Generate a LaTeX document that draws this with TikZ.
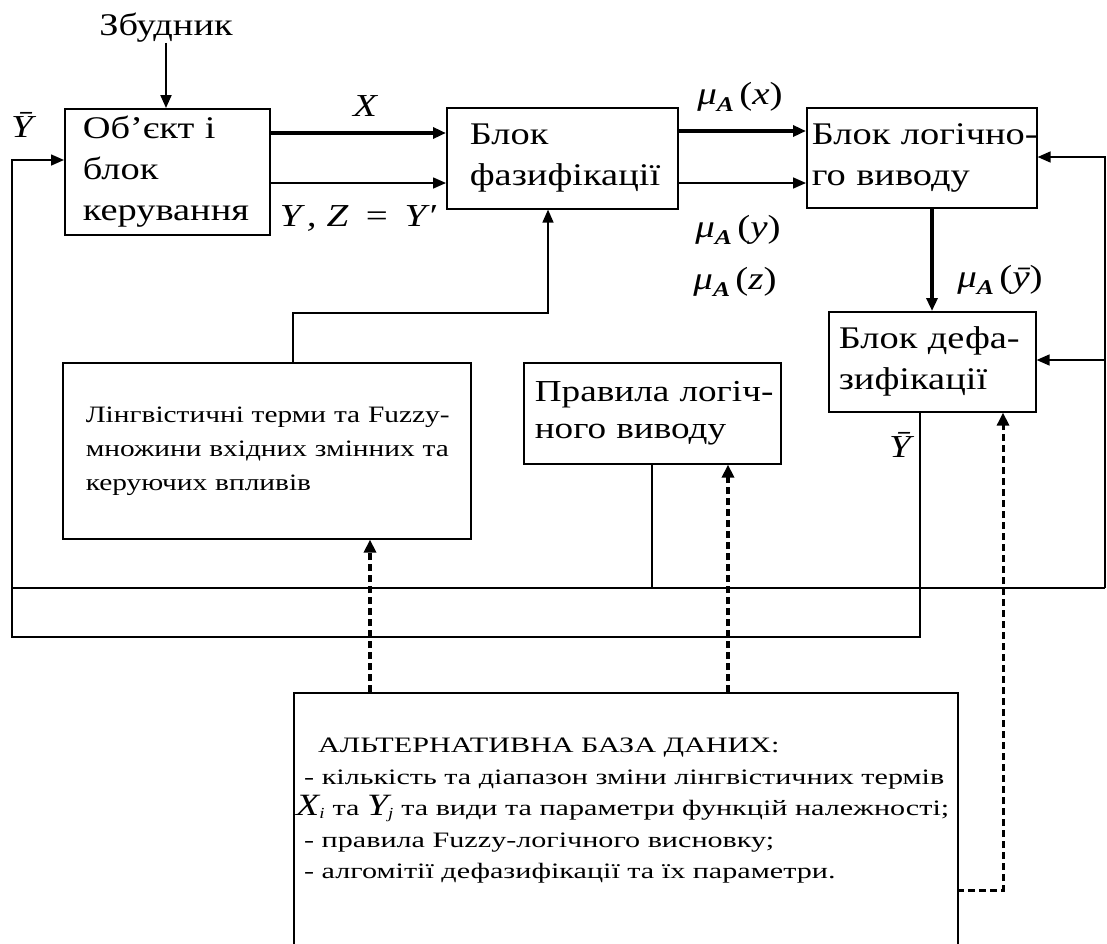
\documentclass[tikz,border=0pt]{standalone}
\usepackage{fontspec}
\setmainfont{Liberation Serif}[FakeStretch=1.22]
\newfontfamily\lingfont{Liberation Serif}[FakeStretch=1.25]
\newfontfamily\botfont{Liberation Serif}[FakeStretch=1.37]
\usetikzlibrary{arrows.meta}
\newcommand\muA[1]{μ\raisebox{-7pt}{\fontsize{21}{21}\selectfont\bfseries\itshape A}\,{\upshape(}#1{\upshape)}}
\begin{document}
\begin{tikzpicture}[x=1pt,y=-1pt,
  box/.style={draw,line width=1.6pt,inner ysep=0pt,anchor=north west,align=left,
    font=\fontsize{31.5}{41}\selectfont},
  lab/.style={inner sep=0pt,font=\fontsize{32}{36}\selectfont\itshape},
  ln/.style={line width=1.6pt},
  arr/.style={ln,-{Triangle[length=13pt,width=11pt]}},
  thk/.style={arr,line width=4pt},
  dsh/.style={line width=3.5pt,dash pattern=on 7pt off 4pt,-{Triangle[length=13pt,width=12pt]}}]
\useasboundingbox[fill=white] (0,0) rectangle (1107,943);

% boxes
\node[box,minimum width=205pt,minimum height=126pt,text width=169pt,inner xsep=18pt] (obj) at (64,108) {\mbox{Об\symbol{39}єкт і}\\\mbox{блок}\\\mbox{керування}};
\node[box,minimum width=231pt,minimum height=101pt,text width=185pt,inner xsep=23pt] (fuzz) at (446,107) {\mbox{Блок}\\\mbox{фазифікації}};
\node[box,minimum width=230pt,minimum height=100pt,text width=220pt,inner xsep=5pt] (logic) at (806,107) {\mbox{Блок логічно-}\\\mbox{го виводу}};
\node[box,minimum width=207pt,minimum height=100pt,text width=187pt,inner xsep=10pt] (dfz) at (828,311) {\mbox{Блок дефа-}\\\mbox{зифікації}};
\node[box,minimum width=257pt,minimum height=101pt,text width=235pt,inner xsep=11pt,
  font=\fontsize{30.5}{37}\selectfont] (rules) at (523,362) {\mbox{Правила логіч-}\\\mbox{ного виводу}};
\node[box,minimum width=408pt,minimum height=176pt,text width=362pt,inner xsep=23pt,
  font=\lingfont\fontsize{23.5}{34}\selectfont] (ling) at (62,362) {\mbox{Лінгвістичні терми та Fuzzy-}\\\mbox{множини вхідних змінних та}\\\mbox{керуючих впливів}\\[12pt]};
\node[draw,line width=1.6pt,anchor=north west,inner sep=0pt,minimum width=664pt,minimum height=252pt] (bot) at (293,692) {};
\node[anchor=north west,inner sep=0pt,align=left,font=\botfont\fontsize{22}{31.5}\selectfont] (bottxt) at (296,738)
 {\hspace*{22pt}АЛЬТЕРНАТИВНА БАЗА ДАНИХ:\\
  \hspace*{8pt}- кількість та діапазон зміни лінгвістичних термів\\
  {\rmfamily\fontsize{31}{31}\selectfont\itshape X}\textsubscript{\rmfamily\itshape i} та {\rmfamily\fontsize{31}{31}\selectfont\itshape Y}\textsubscript{\rmfamily\itshape j} та види та параметри функцій належності;\\
  \hspace*{8pt}- правила Fuzzy-логічного висновку;\\
  \hspace*{8pt}- алгомітії дефазифікації та їх параметри.};

% text labels
\node[inner sep=0pt,font=\fontsize{31.5}{36}\selectfont] (zb) at (166,28) {Збудник};
\node[lab] (ybar1) at (22,125) {Ȳ};
\node[lab] (lx) at (365,106) {X};
\node[lab] (lyz) at (358,218) {Y\,, Z\, =\, Y\kern1pt′};
\node[lab] (mx) at (740,97) {\muA{x}};
\node[lab] (my) at (738,230) {\muA{y}};
\node[lab] (mz) at (735,282) {\muA{z}};
\node[lab] (myb) at (1000,280) {\muA{ȳ}};
\node[lab] (ybar2) at (900,445) {Ȳ};

% helper coordinates
\coordinate (yX) at (0,133);
\coordinate (yY) at (0,183);
\coordinate (yMx) at (0,131);
\coordinate (xL) at (932,0);
\coordinate (G1) at (293,313);
\coordinate (G2) at (548,313);
\coordinate (rd) at (652,588);
\coordinate (L1) at (12,588);
\coordinate (R1) at (1105,157);
\coordinate (R2) at (1105,360);
\coordinate (R3) at (1105,588);
\coordinate (D1) at (920,637);
\coordinate (D2) at (12,637);
\coordinate (D3) at (12,160);
\coordinate (K1) at (370,0);
\coordinate (K2) at (728,0);
\coordinate (K3) at (957,890);
\coordinate (K4) at (1003,890);

% connectors
\draw[arr,line width=2pt] (zb.south) -- (zb.south |- obj.north);
\draw[thk] (obj.east |- yX) -- (fuzz.west |- yX);
\draw[arr] (obj.east |- yY) -- (fuzz.west |- yY);
\draw[thk] (fuzz.east |- yMx) -- (logic.west |- yMx);
\draw[arr] (fuzz.east |- yY) -- (logic.west |- yY);
\draw[thk] (logic.south -| xL) -- (dfz.north -| xL);
\draw[arr] (ling.north -| G1) -- (G1) -- (G2) -- (fuzz.south -| G2);
\draw[ln] (rules.south -| rd) -- (rd);
\draw[ln] (L1) -- (R3);
\draw[arr] (R3) -- (R1) -- (logic.east |- R1);
\draw[arr] (R2) -- (dfz.east |- R2);
\draw[arr] (dfz.south -| D1) -- (D1) -- (D2) -- (D3) -- (obj.west |- D3);
\draw[dsh] (bot.north -| K1) -- (ling.south -| K1);
\draw[dsh] (bot.north -| K2) -- (rules.south -| K2);
\draw[dsh,line width=3pt] (K3) -- (K4) -- (dfz.south -| K4);
\end{tikzpicture}
\end{document}
